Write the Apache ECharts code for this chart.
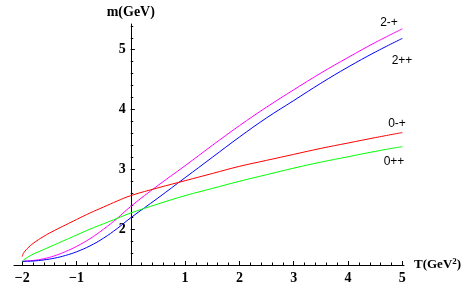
<!DOCTYPE html>
<html>
<head>
<meta charset="utf-8">
<script src="https://cdn.jsdelivr.net/npm/echarts@6/dist/echarts.min.js"></script>
<style>
html,body{margin:0;padding:0;background:#fff;}
#chart{width:469px;height:285px;}
</style>
</head>
<body>
<div id="chart"></div>
<script>
// T (GeV^2)
var T = [-2, -1.98, -1.95, -1.9, -1.8, -1.6, -1.4, -1.2, -1, -0.75, -0.5, -0.25, 0, 0.5, 1, 1.5, 2, 2.5, 3, 3.5, 4, 4.5, 5];
// m (GeV) per state
var m2mp = [1.46, 1.462, 1.465, 1.468, 1.475, 1.505, 1.555, 1.625, 1.71, 1.84, 2.00, 2.18, 2.38, 2.73, 3.06, 3.40, 3.73, 4.04, 4.33, 4.61, 4.87, 5.12, 5.35];
var m2pp = [1.46, 1.461, 1.462, 1.463, 1.466, 1.485, 1.515, 1.56, 1.62, 1.72, 1.85, 2.01, 2.19, 2.52, 2.86, 3.20, 3.54, 3.86, 4.15, 4.44, 4.71, 4.96, 5.19];
var m0mp = [1.54, 1.59, 1.63, 1.68, 1.76, 1.88, 1.98, 2.07, 2.16, 2.27, 2.37, 2.47, 2.56, 2.69, 2.81, 2.93, 3.05, 3.15, 3.25, 3.35, 3.44, 3.53, 3.615];
var m0pp = [1.46, 1.475, 1.50, 1.53, 1.58, 1.66, 1.74, 1.82, 1.90, 2.00, 2.09, 2.18, 2.27, 2.42, 2.56, 2.68, 2.80, 2.91, 3.02, 3.12, 3.21, 3.30, 3.38];
var seriesNames = ['2-+', '2++', '0-+', '0++'];

// ticks
var xMajor = [-2, -1, 0, 1, 2, 3, 4, 5];
var xLabels = [-2, -1, 1, 2, 3, 4, 5];
var xMinor = [-2, -1.8, -1.6, -1.4, -1.2, -1, -0.8, -0.6, -0.4, -0.2, 0, 0.2, 0.4, 0.6, 0.8, 1, 1.2, 1.4, 1.6, 1.8, 2, 2.2, 2.4, 2.6, 2.8, 3, 3.2, 3.4, 3.6, 3.8, 4, 4.2, 4.4, 4.6, 4.8, 5];
var yMajor = [2, 3, 4, 5];
var yLabels = [2, 3, 4, 5];
var yMinor = [1.4, 1.6, 1.8, 2, 2.2, 2.4, 2.6, 2.8, 3, 3.2, 3.4, 3.6, 3.8, 4, 4.2, 4.4, 4.6, 4.8, 5, 5.2, 5.4];

function pairs(xs, ys) { return xs.map(function (x, i) { return [x, ys[i]]; }); }

var chart = echarts.init(document.getElementById('chart'), null, {renderer: 'canvas'});
var serif = '"Liberation Serif", "Times New Roman", serif';
var XMIN = -2.15, XMAX = 5.03, YMIN = 1.4, YMAX = 5.43;
var GL = 14, GR = 65, GT = 24, GB = 20, W = 469;
// pixel where T = 0 lies, so the y axis crosses the x axis at T = 0
var Y0PX = GL + (0 - XMIN) / (XMAX - XMIN) * (W - GL - GR);

function mkLine(name, ys, color) {
  return {
    name: name, type: 'line', data: pairs(T, ys), xAxisIndex: 0, yAxisIndex: 0,
    showSymbol: false, smooth: 0.4, clip: false,
    lineStyle: {color: color, width: 1}, itemStyle: {color: color}, silent: true
  };
}

chart.setOption({
  animation: false,
  backgroundColor: '#fff',
  grid: [
    {left: GL, right: GR, top: GT, bottom: GB, containLabel: false},
    {left: Y0PX, width: 100, top: GT, bottom: GB, containLabel: false}
  ],
  xAxis: [{
    gridIndex: 0, type: 'value', show: true, min: XMIN, max: XMAX, position: 'bottom',
    axisLine: {show: true, onZero: false, lineStyle: {color: '#000', width: 1}},
    axisTick: {show: true, inside: true, length: 2.5, customValues: xMinor, lineStyle: {color: '#000'}},
    axisLabel: {show: true, customValues: xLabels, margin: 6, color: '#000', fontFamily: serif, fontWeight: 'bold', fontSize: 14,
      formatter: function (v) { return String(v).replace('-', '\u2212'); }},
    splitLine: {show: false},
    name: '{n|T(GeV}{s|2}{n|)}', nameLocation: 'end', nameGap: 10,
    nameTextStyle: {align: 'left', verticalAlign: 'middle',
      rich: {n: {fontFamily: serif, fontWeight: 'bold', fontSize: 13, color: '#000'},
             s: {fontFamily: serif, fontWeight: 'bold', fontSize: 9, color: '#000', verticalAlign: 'top', padding: [0, 0, 6, 0]}}}
  }, {
    gridIndex: 0, type: 'value', show: true, min: XMIN, max: XMAX, position: 'bottom', offset: 0,
    axisLine: {show: false, onZero: false},
    axisTick: {show: true, inside: true, length: 4, customValues: xMajor, lineStyle: {color: '#000'}},
    axisLabel: {show: false}, splitLine: {show: false}
  }, {
    gridIndex: 1, type: 'value', show: false, min: 0, max: 1
  }],
  yAxis: [{
    gridIndex: 0, type: 'value', show: false, min: YMIN, max: YMAX,
    axisLine: {show: false}, axisTick: {show: false}, axisLabel: {show: false}, splitLine: {show: false}
  }, {
    gridIndex: 1, type: 'value', show: true, min: YMIN, max: YMAX, position: 'left',
    axisLine: {show: true, onZero: false, lineStyle: {color: '#000', width: 1}},
    axisTick: {show: true, inside: true, length: 4, customValues: yMajor, lineStyle: {color: '#000'}},
    axisLabel: {show: true, customValues: yLabels, margin: 5, color: '#000', fontFamily: serif, fontWeight: 'bold', fontSize: 14},
    splitLine: {show: false},
    name: 'm(GeV)', nameLocation: 'end', nameGap: 12,
    nameTextStyle: {align: 'center', verticalAlign: 'middle', color: '#000', fontFamily: serif, fontWeight: 'bold', fontSize: 14}
  }, {
    gridIndex: 1, type: 'value', show: true, min: YMIN, max: YMAX, position: 'left', offset: 0,
    axisLine: {show: false, onZero: false},
    axisTick: {show: true, inside: true, length: 2.5, customValues: yMinor, lineStyle: {color: '#000'}},
    axisLabel: {show: false}, splitLine: {show: false}
  }],
  series: [
    mkLine(seriesNames[0], m2mp, '#ff00ff'),
    mkLine(seriesNames[1], m2pp, '#0000ff'),
    mkLine(seriesNames[2], m0mp, '#ff0000'),
    mkLine(seriesNames[3], m0pp, '#00ff00'),
    {type: 'line', data: [], xAxisIndex: 1, yAxisIndex: 0, silent: true},
    {type: 'line', data: [], xAxisIndex: 2, yAxisIndex: 1, silent: true},
    {type: 'line', data: [], xAxisIndex: 2, yAxisIndex: 2, silent: true}
  ],
  graphic: [
    {type: 'text', x: 389, y: 23, style: {text: seriesNames[0], fill: '#000', font: '12px "Liberation Sans", Arial, sans-serif', align: 'center', verticalAlign: 'middle', textAlign: 'center', textVerticalAlign: 'middle'}},
    {type: 'text', x: 402, y: 61, style: {text: seriesNames[1], fill: '#000', font: '12px "Liberation Sans", Arial, sans-serif', align: 'center', verticalAlign: 'middle', textAlign: 'center', textVerticalAlign: 'middle'}},
    {type: 'text', x: 397, y: 124, style: {text: seriesNames[2], fill: '#000', font: '12px "Liberation Sans", Arial, sans-serif', align: 'center', verticalAlign: 'middle', textAlign: 'center', textVerticalAlign: 'middle'}},
    {type: 'text', x: 394, y: 162, style: {text: seriesNames[3], fill: '#000', font: '12px "Liberation Sans", Arial, sans-serif', align: 'center', verticalAlign: 'middle', textAlign: 'center', textVerticalAlign: 'middle'}}
  ]
});
</script>
</body>
</html>
